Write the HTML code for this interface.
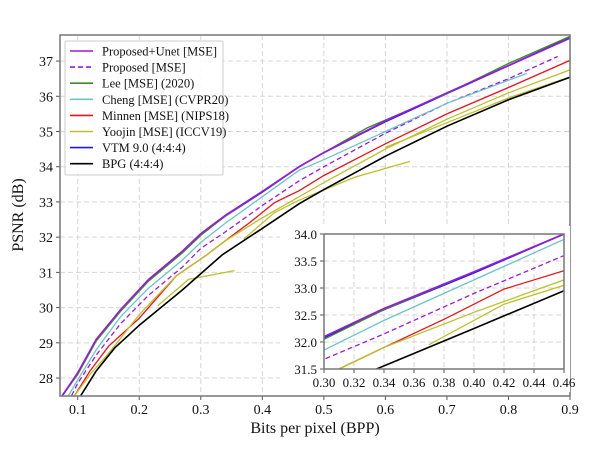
<!DOCTYPE html>
<html><head><meta charset="utf-8"><style>
html,body{margin:0;padding:0;background:#fff;width:600px;height:450px;overflow:hidden}
svg{display:block;font-family:"Liberation Serif",serif;overflow:hidden}
</style></head><body>
<svg id="c" width="600" height="450" viewBox="0 0 600 450"></svg>
<script>
const seriesNames=["Proposed+Unet [MSE]","Proposed [MSE]","Lee [MSE] (2020)","Cheng [MSE] (CVPR20)","Minnen [MSE] (NIPS18)","Yoojin [MSE] (ICCV19)","VTM 9.0 (4:4:4)","BPG (4:4:4)"];
const seriesColors=["#9a1bd6","#9a1bd6","#3d8b2e","#6cc3c8","#e3141c","#bfbf2e","#1a1ae6","#000000"];
const unetX=[0.075,0.1,0.13,0.17,0.215,0.27,0.30,0.34,0.40,0.46,0.5,0.6,0.7,0.8,0.9];
const unetY=[27.5,28.15,29.1,29.95,30.8,31.6,32.1,32.62,33.3,34.0,34.4,35.3,36.1,36.87,37.65];
const propX=[0.09,0.1,0.13,0.17,0.215,0.27,0.30,0.34,0.40,0.46,0.5,0.6,0.7,0.8,0.88];
const propY=[27.5,27.85,28.65,29.55,30.35,31.15,31.68,32.15,32.9,33.6,34.0,34.95,35.8,36.5,37.13];
const leeX=[0.075,0.1,0.13,0.17,0.215,0.27,0.30,0.34,0.40,0.46,0.5,0.57,0.7,0.8,0.9];
const leeY=[27.5,28.1,29.05,29.9,30.75,31.55,32.05,32.6,33.3,34.0,34.4,35.1,36.08,36.93,37.7];
const chengX=[0.085,0.1,0.13,0.17,0.215,0.27,0.30,0.34,0.40,0.46,0.5,0.6,0.7,0.83];
const chengY=[27.5,27.95,28.8,29.75,30.55,31.35,31.85,32.4,33.15,33.9,34.2,35.0,35.8,36.65];
const minnenX=[0.095,0.12,0.15,0.2,0.26,0.31,0.34,0.38,0.42,0.46,0.5,0.6,0.7,0.8,0.9];
const minnenY=[27.5,28.2,28.9,29.7,30.9,31.5,31.9,32.42,32.98,33.32,33.75,34.65,35.5,36.25,37.02];
const yoojinX=[0.095,0.12,0.15,0.2,0.26,0.31,0.34,0.40,0.42,0.46,0.5,0.6,0.7,0.8,0.9];
const yoojinY=[27.5,28.1,28.7,29.8,30.9,31.5,31.9,32.55,32.75,33.15,33.55,34.5,35.35,36.1,36.75];
const yoojinAX=[0.23,0.26,0.28,0.355];
const yoojinAY=[30.05,30.5,30.8,31.05];
const yoojinBX=[0.37,0.42,0.46,0.55,0.64];
const yoojinBY=[31.95,32.7,33.05,33.7,34.15];
const yoojinCX=[0.6,0.7,0.8,0.9];
const yoojinCY=[34.55,35.25,35.95,36.55];
const vtmX=unetX;
const vtmY=[27.5,28.12,29.08,29.93,30.78,31.58,32.08,32.6,33.28,34.0,34.4,35.28,36.08,36.87,37.67];
const bpgX=[0.105,0.13,0.16,0.2,0.27,0.335,0.40,0.46,0.5,0.6,0.7,0.8,0.9];
const bpgY=[27.5,28.2,28.85,29.5,30.5,31.5,32.25,32.95,33.35,34.3,35.15,35.9,36.54];
const lines=[
 {x:vtmX,y:vtmY,c:6,n:"vtm-line"},
 {x:leeX,y:leeY,c:2,n:"lee-line"},
 {x:unetX,y:unetY,c:0,n:"proposed-unet-line"},
 {x:propX,y:propY,c:1,n:"proposed-line",dash:true},
 {x:chengX,y:chengY,c:3,n:"cheng-line"},
 {x:minnenX,y:minnenY,c:4,n:"minnen-line"},
 {x:yoojinX,y:yoojinY,c:5,n:"yoojin-line"},
 {x:yoojinAX,y:yoojinAY,c:5,n:"yoojin-line-a"},
 {x:yoojinBX,y:yoojinBY,c:5,n:"yoojin-line-b"},
 {x:yoojinCX,y:yoojinCY,c:5,n:"yoojin-line-c"},
 {x:bpgX,y:bpgY,c:7,n:"bpg-line"}];
const xTicks=[0.1,0.2,0.3,0.4,0.5,0.6,0.7,0.8,0.9];
const yTicks=[28,29,30,31,32,33,34,35,36,37];
const ixTicks=[0.30,0.32,0.34,0.36,0.38,0.40,0.42,0.44,0.46];
const iyTicks=[31.5,32.0,32.5,33.0,33.5,34.0];

const NS="http://www.w3.org/2000/svg";
const svg=document.getElementById('c');
function el(t,a,p){const e=document.createElementNS(NS,t);for(const k in a)e.setAttribute(k,a[k]);(p||svg).appendChild(e);return e;}
function makeAxes(L,R,T,B,x0,x1,y0,y1){
 return {X:v=>L+(v-x0)/(x1-x0)*(R-L),Y:v=>B-(v-y0)/(y1-y0)*(B-T),L,R,T,B};
}
const M=makeAxes(60,570,35,396,0.0712,0.9,27.49,37.74);
function drawFrame(A,xt,yt,fmtX,fmtY,pref,fs){
 const g=el('g',{});
 
 
 xt.forEach(v=>el('line',{x1:A.X(v),x2:A.X(v),y1:A.T,y2:A.B,stroke:'#d6d6d6','stroke-dasharray':'5,3','stroke-width':1},g));
 yt.forEach(v=>el('line',{x1:A.L,x2:A.R,y1:A.Y(v),y2:A.Y(v),stroke:'#d6d6d6','stroke-dasharray':'5,3','stroke-width':1},g));
 xt.forEach(v=>{el('line',{x1:A.X(v),x2:A.X(v),y1:A.B,y2:A.B+4,stroke:'#555'},g);
  const t=el('text',{x:A.X(v),y:A.B+18,'text-anchor':'middle','font-size':fs,fill:'#111'});t.textContent=fmtX(v);
  
  });
 yt.forEach(v=>{el('line',{x1:A.L-4,x2:A.L,y1:A.Y(v),y2:A.Y(v),stroke:'#555'},g);
  const t=el('text',{x:A.L-7,y:A.Y(v)+5,'text-anchor':'end','font-size':fs,fill:'#111'});t.textContent=fmtY(v);
  
  });
}
function drawLines(A,clip){
 lines.forEach(s=>{
  const d=s.x.map((v,i)=>(i?'L':'M')+A.X(v).toFixed(1)+','+A.Y(s.y[i]).toFixed(1)).join('');
  const p=el('path',{d:d,fill:'none',stroke:seriesColors[s.c],'stroke-width':s.c==0||s.c==6||s.c==7?1.6:1.3,'clip-path':'url(#'+clip+')'});
  if(s.dash)p.setAttribute('stroke-dasharray','5,3');
  
  
 });
}
const defs=el('defs',{});
const c1=el('clipPath',{id:'cm'},defs);el('rect',{x:60,y:35,width:510,height:361},c1);
const c2=el('clipPath',{id:'ci'},defs);el('rect',{x:324,y:234,width:240,height:135},c2);

drawFrame(M,xTicks,yTicks,v=>v.toFixed(1),v=>String(v),'main-',14);
drawLines(M,'cm');
const f=el('rect',{x:60,y:35,width:510,height:361,fill:'none',stroke:'#777','stroke-width':1.5});



const I=makeAxes(324,564,234,369,0.30,0.46,31.5,34.0);
const bg=el('rect',{x:280,y:226,width:290,height:166,fill:'#fff'});


drawFrame(I,ixTicks,iyTicks,v=>v.toFixed(2),v=>v.toFixed(1),'inset-',13);
drawLines(I,'ci');
const f2=el('rect',{x:324,y:234,width:240,height:135,fill:'none',stroke:'#777','stroke-width':1.5});



let t=el('text',{x:315,y:433,'text-anchor':'middle','font-size':16,fill:'#111'});t.textContent='Bits per pixel (BPP)';


t=el('text',{x:0,y:0,'text-anchor':'middle','font-size':16,fill:'#111',transform:'translate(23,215) rotate(-90)'});t.textContent='PSNR (dB)';



const lg=el('g',{});


el('rect',{x:65,y:41,width:158,height:134,fill:'#fff','fill-opacity':0.9,stroke:'#ccc',rx:2},lg);
seriesNames.forEach((n,i)=>{
 const y=51+i*16.1;
 const e=el('g',{},lg);
 
 
 const l=el('line',{x1:70,x2:93,y1:y,y2:y,stroke:seriesColors[i],'stroke-width':1.6},e);
 if(i==1)l.setAttribute('stroke-dasharray','5,3');
 const tx=el('text',{x:102,y:y+4.5,'font-size':12.5,fill:'#111'},e);tx.textContent=n;
});
</script>
</body></html>
